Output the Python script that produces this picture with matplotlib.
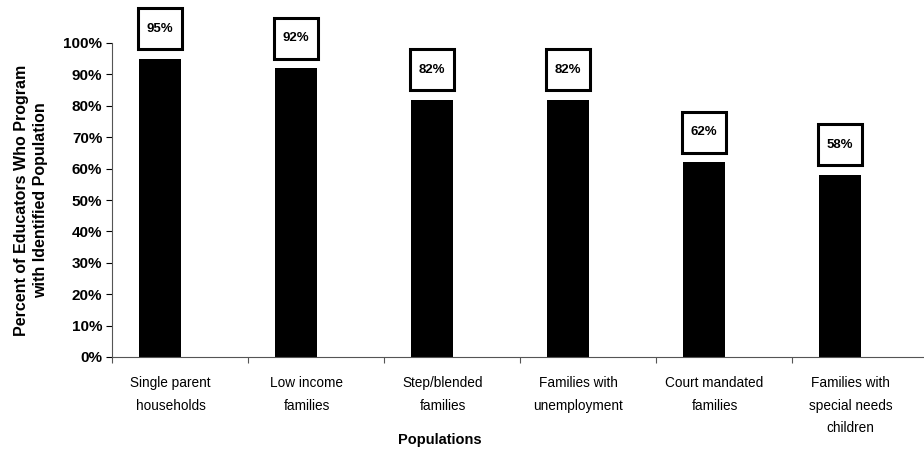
import matplotlib.pyplot as plt
from matplotlib.patches import Rectangle
import numpy as np

plt.rcParams['font.family'] = ['Liberation Sans', 'DejaVu Sans']

categories = ['Single parent\nhouseholds', 'Low income\nfamilies', 'Step/blended\nfamilies',
              'Families with\nunemployment', 'Court mandated\nfamilies',
              'Families with\nspecial needs\nchildren']
values = [95, 92, 82, 82, 62, 58]

fig = plt.figure(figsize=(9.24, 4.53), dpi=100)
ax = fig.add_axes([112/924, 96/453, 816/924, 314/453])

x = np.arange(len(categories))
bars = ax.bar(x - 0.15, values, width=0.31, color='black')

ax.set_ylim(0, 100)
ax.set_xlim(-0.5, 5.5)

# value boxes: fixed pixel size, placed above each bar
bw, bh, gap = 44, 41, 30
for xi, v in zip(x, values):
    px, py = ax.transData.transform((xi - 0.15, v))
    cy = py + gap
    fig.patches.append(Rectangle((px - bw / 2, cy - bh / 2), bw, bh, transform=None,
                                 fc='white', ec='black', lw=2.2, figure=fig))
    fig.text(px / 924, cy / 453, '%d%%' % v, ha='center', va='center',
             fontsize=9.5, fontweight='bold')

ax.set_yticks(range(0, 101, 10))
ax.set_yticklabels(['%d%%' % t for t in range(0, 101, 10)], fontsize=11, fontweight='bold')
ax.set_xticks(np.arange(-0.5, 6, 1))
ax.set_xticklabels([])
ax.set_xticks(x - 0.07, minor=True)
ax.set_xticklabels(categories, minor=True, fontsize=9.8, linespacing=1.75)
ax.tick_params(axis='x', which='minor', length=0, pad=14)
ax.tick_params(axis='x', which='major', length=4, direction='out', color='#555555')
ax.tick_params(axis='y', length=4, direction='out', pad=3)

for s in ['top', 'right']:
    ax.spines[s].set_visible(False)
ax.spines['left'].set_color('#555555')
ax.spines['bottom'].set_color('#555555')

ax.set_ylabel('Percent of Educators Who Program\nwith Identified Population',
              fontsize=11.5, fontweight='bold', linespacing=1.3)
ax.yaxis.set_label_coords(-(112 - 48) / 816, 0.5)
ax.set_xlabel('Populations', fontsize=10.5, fontweight='bold')
ax.xaxis.set_label_coords((440 - 112) / 816, -(433 - 357) / 314)

fig.savefig('out.png', dpi=100)
